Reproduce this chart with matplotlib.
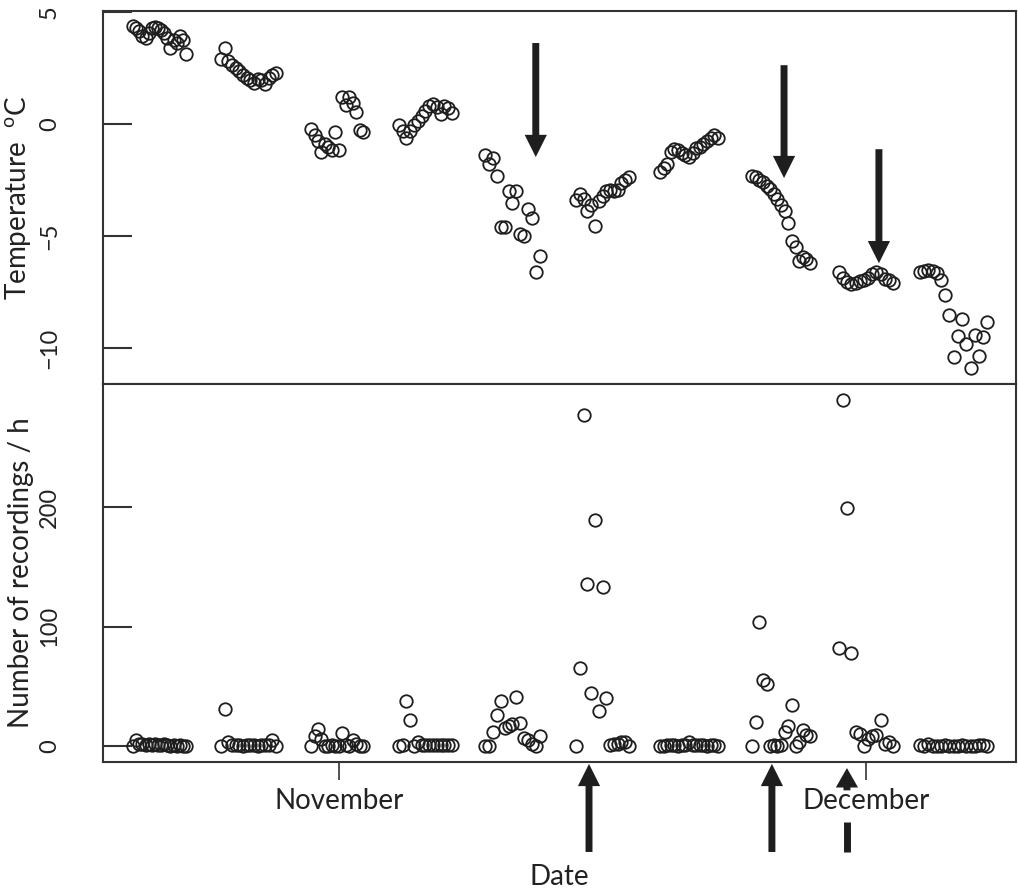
import matplotlib
matplotlib.use('Agg')
import numpy as np
import matplotlib.pyplot as plt

plt.rcParams['font.family'] = ['Lato', 'DejaVu Sans']
plt.rcParams['mathtext.fontset'] = 'custom'
plt.rcParams['mathtext.rm'] = 'Lato'

# days relative to 1 November, first and last record of each night
night_start = [-11.72, -6.72, -1.59, 3.41, 8.31, 13.49, 18.27, 23.51, 28.46, 33.07]
night_end = [-8.71, -3.59, 1.37, 6.43, 11.44, 16.51, 21.57, 26.81, 31.53, 36.9]

temps = [
    [4.4, 4.3, 4.15, 3.95, 3.85, 4.05, 4.3, 4.35, 4.3, 4.2, 4.05, 3.85, 3.4, 3.75, 3.6, 3.95, 3.75, 3.15],
    [2.9, 3.4, 2.8, 2.65, 2.5, 2.35, 2.2, 2.05, 1.95, 1.85, 2.0, 1.95, 1.8, 2.05, 2.2, 2.3],
    [-0.2, -0.5, -0.75, -1.25, -0.9, -1.0, -1.15, -0.35, -1.15, 1.2, 0.85, 1.2, 0.95, 0.55, -0.25, -0.35],
    [-0.05, -0.3, -0.6, -0.3, -0.05, 0.15, 0.35, 0.6, 0.8, 0.9, 0.75, 0.45, 0.8, 0.7, 0.5],
    [-1.4, -1.8, -1.5, -2.3, -4.6, -4.6, -3.0, -3.5, -3.0, -4.9, -5.0, -3.8, -4.2, -6.6, -5.9],
    [-3.4, -3.1, -3.35, -3.9, -3.6, -4.55, -3.45, -3.2, -3.0, -2.95, -3.0, -2.95, -2.65, -2.5, -2.35],
    [-2.15, -1.95, -1.8, -1.25, -1.1, -1.15, -1.3, -1.4, -1.45, -1.3, -1.05, -1.0, -0.9, -0.75, -0.6, -0.5, -0.6],
    [-2.3, -2.35, -2.5, -2.6, -2.75, -2.9, -3.1, -3.35, -3.6, -3.9, -4.4, -5.2, -5.5, -6.1, -5.95, -6.0, -6.2],
    [-6.6, -6.85, -7.05, -7.15, -7.1, -7.0, -6.95, -6.85, -6.7, -6.6, -6.7, -6.9, -6.95, -7.1],
    [-6.6, -6.55, -6.5, -6.55, -6.65, -6.95, -7.65, -8.5, -10.4, -9.45, -8.7, -9.8, -10.9, -9.4, -10.35, -9.5, -8.85],
]

counts = [
    [0, 5, 2, 2, 1, 2, 1, 2, 1, 1, 2, 1, 0, 1, 0, 1, 0, 0],
    [0, 31, 3, 1, 1, 1, 0, 1, 1, 1, 0, 1, 1, 1, 5, 0],
    [0, 8, 14, 6, 0, 0, 1, 0, 0, 11, 1, 0, 5, 2, 0, 0],
    [0, 1, 38, 22, 0, 3, 1, 1, 1, 1, 1, 1, 1, 1, 1],
    [0, 0, 12, 26, 38, 15, 17, 18, 41, 19, 7, 5, 2, 0, 8],
    [0, 65, 277, 136, 44, 189, 29, 133, 40, 1, 2, 2, 3, 3, 0],
    [0, 0, 1, 1, 1, 0, 1, 1, 3, 1, 1, 1, 1, 0, 1, 1, 0],
    [0, 20, 104, 55, 52, 0, 1, 0, 1, 12, 17, 34, 0, 3, 13, 9, 8],
    [82, 290, 199, 78, 12, 10, 0, 6, 8, 9, 22, 2, 3, 0],
    [1, 0, 2, 0, 0, 0, 1, 0, 0, 0, 1, 0, 0, 0, 1, 1, 0],
]

month_days = [0, 30]
month_labels = ['November', 'December']

# arrows: x position (days), tip, tail
top_arrows = [(11.20, -1.47, 3.62), (25.33, -2.41, 2.63), (30.73, -6.21, -1.12)]
bottom_arrows = [14.23, 24.64]
broken_arrow = 28.91

ink = '#1e1e1e'
fig = plt.figure(figsize=(10.18, 8.93), dpi=100)
ax1 = fig.add_axes([0.1012, 0.570, 0.8968, 0.4177])
ax2 = fig.add_axes([0.1012, 0.1467, 0.8968, 0.4233], sharex=ax1)

for s, e, t, c in zip(night_start, night_end, temps, counts):
    x = np.linspace(s, e, len(t))
    ax1.plot(x, t, 'o', mfc='none', mec=ink, ms=9, mew=1.3)
    ax2.plot(x, c, 'o', mfc='none', mec=ink, ms=9, mew=1.3)

ax1.set_xlim(-13.43, 38.53)
ax1.set_ylim(-11.6, 5.05)
ax1.set_yticks([-10, -5, 0, 5])
ax2.set_ylim(-13.4, 303)
ax2.set_yticks([0, 100, 200])
ax2.set_xticks(month_days)
ax2.set_xticklabels(month_labels)

for ax in (ax1, ax2):
    for sp in ax.spines.values():
        sp.set_linewidth(1.5)
        sp.set_color('#333333')
    ax.tick_params(axis='y', direction='in', length=21, width=1.5, color='#333333',
                   labelsize=17, pad=31, labelrotation=90, labelcolor='#222222')
    for lab in ax.get_yticklabels():
        lab.set_va('center')
    ax.yaxis.set_label_coords(-0.076, 0.5)

ax1.tick_params(axis='x', bottom=False, labelbottom=False)
ax2.tick_params(axis='x', direction='out', length=13, width=1.2, color='#333333',
                labelsize=20, pad=6, labelcolor='#222222')

ax1.set_ylabel('Temperature  $^{\\mathrm{o}}$C', fontsize=20, color='#222222')
ax2.set_ylabel('Number of recordings / h', fontsize=20, color='#222222')
ax2.set_xlabel('Date', fontsize=20, color='#222222', labelpad=36)

arrow_kw = dict(facecolor=ink, edgecolor='none', width=5, headwidth=16, headlength=16, shrink=0)
for x, tip, tail in top_arrows:
    ax1.annotate('', xy=(x, tip), xytext=(x, tail), arrowprops=arrow_kw)

tr = ax2.get_xaxis_transform()
for x in bottom_arrows:
    ax2.annotate('', xy=(x, -0.005), xytext=(x, -0.238), xycoords=tr, textcoords=tr,
                 arrowprops=arrow_kw, annotation_clip=False)
ax2.annotate('', xy=(broken_arrow, -0.016), xytext=(broken_arrow, -0.075), xycoords=tr,
             textcoords=tr, arrowprops=dict(arrow_kw, headlength=14), annotation_clip=False)
ax2.plot([broken_arrow, broken_arrow], [-0.159, -0.238], transform=tr, color=ink,
         lw=5, solid_capstyle='butt', clip_on=False)

fig.savefig('out.png', dpi=100)
